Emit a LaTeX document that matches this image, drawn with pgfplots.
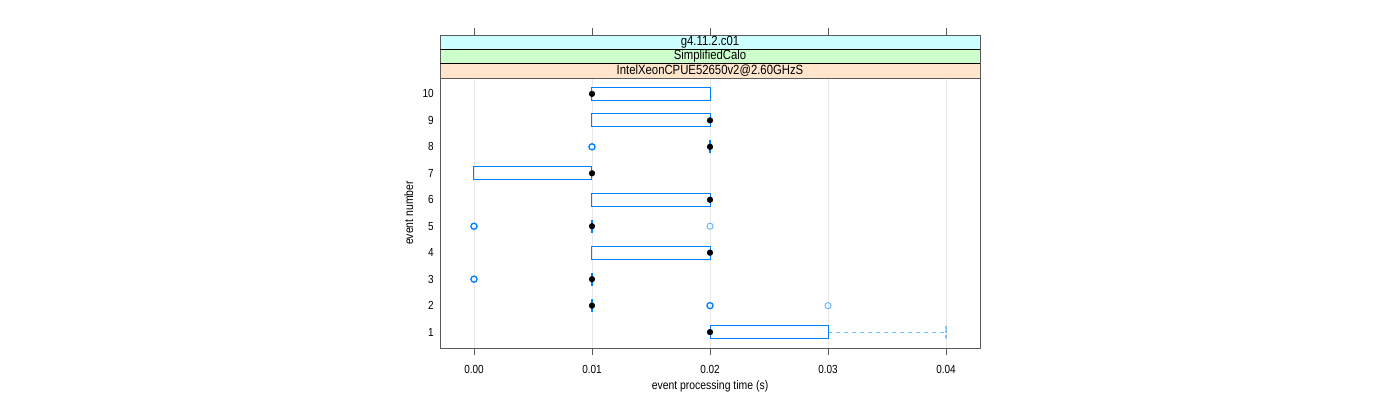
\documentclass[border=0pt]{standalone}
\usepackage{pgfplots}
\pgfplotsset{compat=1.18}
\usepgfplotslibrary{statistics}
\usepackage{fontspec}
\setmainfont[FakeStretch=0.85]{Liberation Sans}
\definecolor{boxblue}{HTML}{0080FF}
\definecolor{framegray}{HTML}{5A5A5A}
\definecolor{stripA}{HTML}{FFE5CC}
\definecolor{stripB}{HTML}{CCFFCC}
\definecolor{stripC}{HTML}{CCFFFF}
\definecolor{gridgray}{HTML}{E8E8E8}
\begin{document}
\begin{tikzpicture}
\path[use as bounding box] (0pt,0pt) rectangle (1050pt,300pt);
\begin{axis}[
  at={(330pt,39pt)}, anchor=south west,
  scale only axis, width=405pt, height=202.5pt,
  xmin=-0.00288, xmax=0.04288, ymin=0.4, ymax=10.6,
  clip=false,
  scaled x ticks=false,
  axis line style={draw=framegray, line width=0.7pt},
  xtick={0,0.01,0.02,0.03,0.04},
  xticklabels={0.00,0.01,0.02,0.03,0.04},
  ytick={1,2,3,4,5,6,7,8,9,10},
  xtick pos=bottom, ytick pos=left,
  tick align=outside,
  major tick length=5.25pt,
  xtick style={draw=framegray, line width=0.6pt},
  ytick style={draw=none},
  xmajorgrids, grid style={draw=gridgray, line width=0.6pt},
  /pgf/number format/assume math mode=true,
  ticklabel style={font=\fontsize{8.8}{10}\selectfont},
  xticklabel style={yshift=-4pt},
  yticklabel style={xshift=4pt},
  label style={font=\fontsize{9.2}{11}\selectfont},
  xlabel={event processing time (s)},
  ylabel={event number},
  xlabel style={at={(axis description cs:0.5,0)}, anchor=center, yshift=-28.5pt},
  ylabel style={at={(axis description cs:0,0.5)}, anchor=center, yshift=23.5pt},
  boxplot/draw direction=x,
  boxplot/box extend=0.5,
  boxplot/whisker extend=0.5,
  boxplot/every box/.style={draw=boxblue, line width=0.75pt},
  boxplot/every whisker/.style={draw=boxblue!55, dashed, line width=0.75pt},
  boxplot/every median/.style={draw=none},
]
% boxes
\addplot[boxplot prepared={draw position=10, lower whisker=0.01, lower quartile=0.01, median=0.01, upper quartile=0.02, upper whisker=0.02}, mark=none] coordinates {};
\addplot[boxplot prepared={draw position=9, lower whisker=0.01, lower quartile=0.01, median=0.02, upper quartile=0.02, upper whisker=0.02}, mark=none] coordinates {};
\addplot[boxplot prepared={draw position=7, lower whisker=0.00, lower quartile=0.00, median=0.01, upper quartile=0.01, upper whisker=0.01}, mark=none] coordinates {};
\addplot[boxplot prepared={draw position=6, lower whisker=0.01, lower quartile=0.01, median=0.02, upper quartile=0.02, upper whisker=0.02}, mark=none] coordinates {};
\addplot[boxplot prepared={draw position=4, lower whisker=0.01, lower quartile=0.01, median=0.02, upper quartile=0.02, upper whisker=0.02}, mark=none] coordinates {};
\addplot[boxplot prepared={draw position=1, lower whisker=0.02, lower quartile=0.02, median=0.02, upper quartile=0.03, upper whisker=0.04}, mark=none] coordinates {};
% degenerate boxes (all quartiles equal): a short vertical line
\addplot[only marks, mark=|, mark size=4.9pt, draw=boxblue, mark options={line width=0.9pt}] coordinates {
(0.02,8) (0.01,5) (0.01,3) (0.01,2)};
% whisker cap of event 1
\addplot[only marks, mark=|, mark size=4.9pt, draw=boxblue!50, mark options={line width=0.8pt, dash pattern=on 2.2pt off 1.2pt}] coordinates {
(0.04,1)};
% outliers (several coinciding values)
\addplot[only marks, mark=o, mark size=2.3pt, draw=boxblue, mark options={line width=1pt}] coordinates {
(0.01,8) (0.00,5) (0.00,3) (0.02,2)};
% outliers (single values)
\addplot[only marks, mark=o, mark size=2.3pt, draw=boxblue!60, mark options={line width=0.7pt}] coordinates {
(0.02,5) (0.03,2)};
% medians
\addplot[only marks, mark=*, mark size=2.1pt, draw=black, fill=black] coordinates {
(0.01,10) (0.02,9) (0.02,8) (0.01,7) (0.02,6) (0.01,5) (0.02,4) (0.01,3) (0.01,2) (0.02,1)};
% strips
\draw[draw=framegray, line width=0.7pt, fill=stripA] (rel axis cs:0,1) rectangle (rel axis cs:1,1.05309);
\draw[draw=framegray, line width=0.7pt, fill=stripB] (rel axis cs:0,1.05309) rectangle (rel axis cs:1,1.10618);
\draw[draw=framegray, line width=0.7pt, fill=stripC] (rel axis cs:0,1.10618) rectangle (rel axis cs:1,1.15927);
\draw[black, line width=0.7pt] (rel axis cs:0,1.05309) -- (rel axis cs:1,1.05309);
\draw[black, line width=0.7pt] (rel axis cs:0,1.10618) -- (rel axis cs:1,1.10618);
\node[font=\fontsize{10}{11}\selectfont, anchor=center] at (rel axis cs:0.5,1.02655) {IntelXeonCPUE52650v2@2.60GHzS};
\node[font=\fontsize{10}{11}\selectfont, anchor=center] at (rel axis cs:0.5,1.07964) {SimplifiedCalo};
\node[font=\fontsize{10}{11}\selectfont, anchor=center] at (rel axis cs:0.5,1.13273) {g4.11.2.c01};
% top ticks above strips
\pgfplotsinvokeforeach{0,0.01,0.02,0.03,0.04}{
  \draw[framegray, line width=0.6pt] (axis cs:#1,12.225) -- (axis cs:#1,12.495);
}
\end{axis}
\end{tikzpicture}
\end{document}
